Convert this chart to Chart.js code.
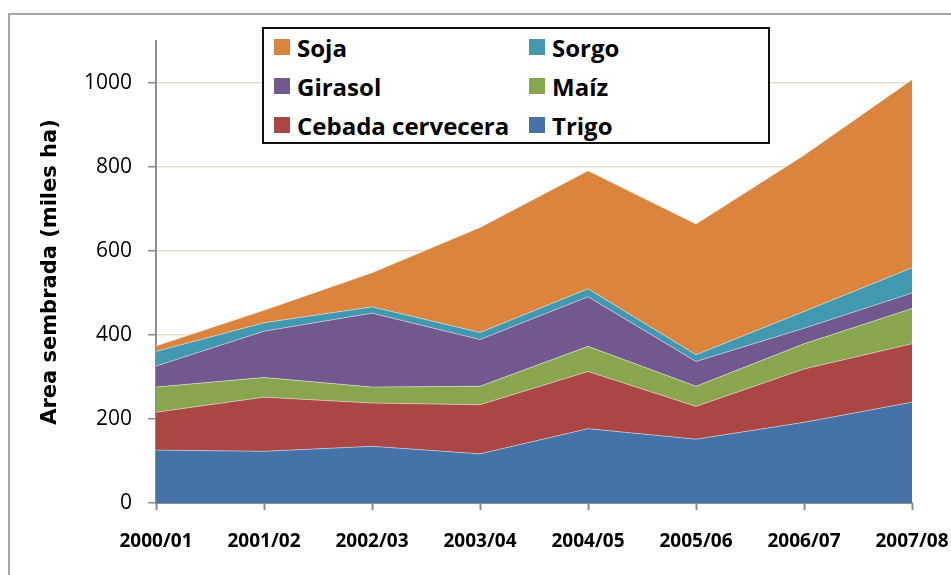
<!DOCTYPE html>
<html lang="es">
  <head>
    <meta charset="UTF-8"/>
    <title>Area sembrada</title>
    <style>
      body { margin: 0; overflow: hidden; background: #fff; }
      #wrap { position: relative; width: 951px; height: 575px; overflow: hidden; }
      #frame { position: absolute; left: 8px; top: 13px; width: 1000px; height: 700px;
               border-left: 2px solid #a6a6a6; border-top: 2px solid #a6a6a6; }
      canvas { position: absolute; left: 0; top: 0; }
      #legend { position: absolute; left: 262px; top: 27px; width: 508px; height: 117px;
                box-sizing: border-box; border: 2px solid #111; background: #fff;
                font-family: "Open Sans", sans-serif; font-weight: bold; font-size: 24px; color: #000; }
      .item { position: absolute; height: 30px; display: flex; align-items: center; white-space: nowrap; }
      .box { width: 16px; height: 16px; margin-right: 7px; }
    </style>
  </head>
  <body>
  <div id="wrap">
    <div id="frame"></div>
    <canvas id="myChart" width="951" height="575"></canvas>
    <div id="legend"></div>
  </div>
  <script src="https://cdn.jsdelivr.net/npm/chart.js"></script>
  <script>
    const campanas = ['2000/01', '2001/02', '2002/03', '2003/04', '2004/05', '2005/06', '2006/07', '2007/08'];
    const trigo   = [126, 123, 135, 117, 177, 152, 192, 240];
    const cebada  = [90, 129, 103, 117, 136, 78, 127, 139];
    const maiz    = [60, 47, 38, 44, 60, 48, 60, 84];
    const girasol = [50, 110, 176, 111, 118, 59, 37, 37];
    const sorgo   = [35, 20, 15, 17, 19, 16, 40, 60];
    const soja    = [13, 30, 81, 250, 281, 311, 372, 448];
    const yTicks  = [0, 200, 400, 600, 800, 1000];

    // bottom to top, same order Excel stacks them
    const series = [
      { label: 'Trigo', data: trigo, color: '#4572A7' },
      { label: 'Cebada cervecera', data: cebada, color: '#AA4643' },
      { label: 'Maíz', data: maiz, color: '#89A54E' },
      { label: 'Girasol', data: girasol, color: '#71588F' },
      { label: 'Sorgo', data: sorgo, color: '#4198AF' },
      { label: 'Soja', data: soja, color: '#DB843D' }
    ];
    const legendOrder = ['Soja', 'Sorgo', 'Girasol', 'Maíz', 'Cebada cervecera', 'Trigo'];

    const axisGray = '#8c8c8c';

    const data = {
      labels: campanas,
      datasets: series.map((s, i) => ({
        label: s.label,
        data: s.data,
        backgroundColor: s.color,
        borderColor: 'rgba(255,255,255,0.45)',
        borderWidth: 1,
        pointRadius: 0,
        tension: 0,
        fill: i === 0 ? 'origin' : '-1'
      }))
    };

    const config = {
      type: 'line',
      data,
      options: {
        responsive: false,
        animation: false,
        devicePixelRatio: 1,
        layout: { padding: { left: 34, right: 39, top: 41, bottom: 0 } },
        plugins: { legend: { display: false }, tooltip: { enabled: false } },
        scales: {
          x: {
            offset: false,
            grid: { drawOnChartArea: false, tickLength: 7, tickColor: axisGray, tickWidth: 2 },
            border: { color: axisGray, width: 2 },
            ticks: {
              color: '#000',
              padding: 20,
              maxRotation: 0,
              font: { family: 'Open Sans', size: 19, weight: 'bold' }
            },
            afterFit: (scale) => {
              scale.height = 72;
              scale.paddingLeft = 0;
              scale.paddingRight = 0;
            }
          },
          y: {
            stacked: true,
            min: 0,
            max: 1100,
            grid: { color: '#e4e0cf', lineWidth: 1.5, tickLength: 8, tickColor: axisGray, tickWidth: 1.5 },
            border: { color: axisGray, width: 2 },
            ticks: {
              stepSize: 200,
              color: '#000',
              padding: 16,
              font: { family: 'Open Sans', size: 21 },
              callback: (v) => String(v)
            },
            afterBuildTicks: (scale) => {
              scale.ticks = yTicks.map(v => ({ value: v }));
            },
            title: {
              display: true,
              text: 'Area sembrada (miles ha)',
              color: '#000',
              font: { family: 'DejaVu Sans', size: 21, weight: 'bold' }
            },
            afterFit: (scale) => {
              scale.width = 122;
              scale.paddingTop = 0;
              scale.paddingBottom = 0;
            }
          }
        }
      }
    };

    const myChart = new Chart(document.getElementById('myChart'), config);

    // legend box drawn as html, two columns like the original
    const legend = document.getElementById('legend');
    const colX = [10, 265];
    const rowY = [3, 42, 81];
    legendOrder.forEach((name, k) => {
      const ds = myChart.data.datasets.find(d => d.label === name);
      const item = document.createElement('div');
      item.className = 'item';
      item.style.left = colX[k % 2] + 'px';
      item.style.top = rowY[Math.floor(k / 2)] + 'px';
      const box = document.createElement('span');
      box.className = 'box';
      box.style.background = ds.backgroundColor;
      const txt = document.createElement('span');
      txt.textContent = ds.label;
      item.appendChild(box);
      item.appendChild(txt);
      legend.appendChild(item);
    });
</script>
  </body>
</html>
